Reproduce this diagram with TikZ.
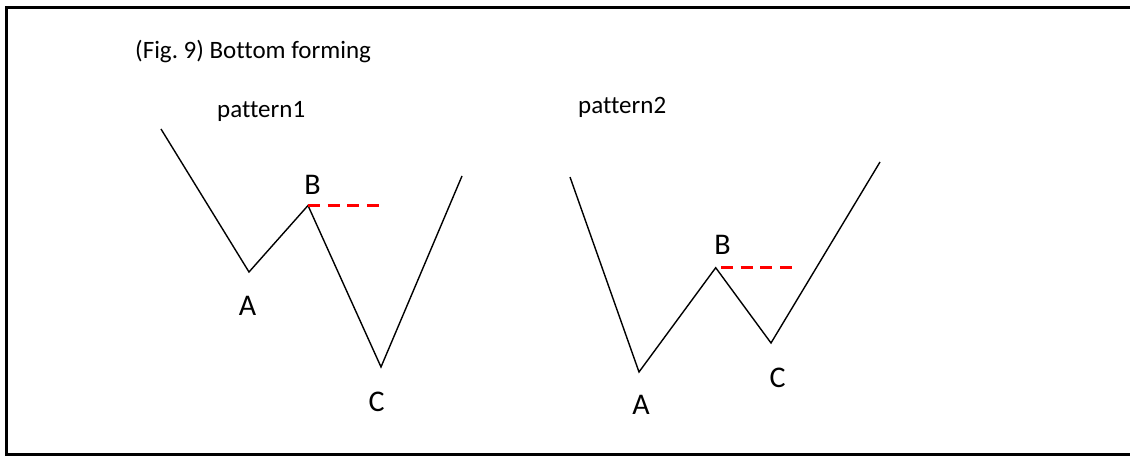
\documentclass[tikz,border=0pt]{standalone}
\usepackage{fontspec}
\setmainfont{Carlito}[Ligatures=NoCommon]
\usetikzlibrary{positioning}
\frenchspacing
\begin{document}
\begin{tikzpicture}[x=1pt, y=-1pt,
  frame/.style={draw=black, line width=3pt},
  wave/.style={draw=black, line width=1.4pt},
  level/.style={draw=red, line width=3pt, dash pattern=on 12pt off 7.6pt},
  caption/.style={inner sep=0pt, anchor=base west, font=\fontsize{25}{30}\selectfont},
  pt/.style={inner sep=0pt, font=\fontsize{30}{36}\selectfont}
]
\useasboundingbox (0,0) rectangle (1130,457);
% frame, right side is cut off
\draw[frame] (1132,7.5) -| (6,454.3) -- (1132,454.3);

\node[caption] (title) at (135,58.3) {(Fig. 9) Bottom forming};
\node[caption] (pat1) at (217,117.7) {pattern1};
\node[caption] (pat2) at (578,113.3) {pattern2};

% pattern 1
\coordinate (s1) at (161,129);
\coordinate (a1) at (249,272);
\coordinate (b1) at (308,205.5);
\coordinate (c1) at (381,367);
\coordinate (e1) at (462,176);
\coordinate (d1) at (379,205.5);
\draw[wave] (s1) -- (a1) -- (b1) -- (c1) -- (e1);
\draw[level] (b1) -- (d1);
\node[pt] (A1) at (247.5,306) {A};
\node[pt] (B1) at (312.5,184.5) {B};
\node[pt] (C1) at (376.7,402) {C};

% pattern 2
\coordinate (s2) at (570,177);
\coordinate (a2) at (639,372);
\coordinate (b2) at (715.7,267.7);
\coordinate (c2) at (771,343);
\coordinate (e2) at (880,162);
\coordinate (l2) at (721,267.7);
\coordinate (d2) at (793,267.7);
\draw[wave] (s2) -- (a2) -- (b2) -- (c2) -- (e2);
\draw[level] (l2) -- (d2);
\node[pt] (A2) at (641,404.7) {A};
\node[pt] (B2) at (722.5,245) {B};
\node[pt] (C2) at (777.5,378) {C};
\end{tikzpicture}
\end{document}
